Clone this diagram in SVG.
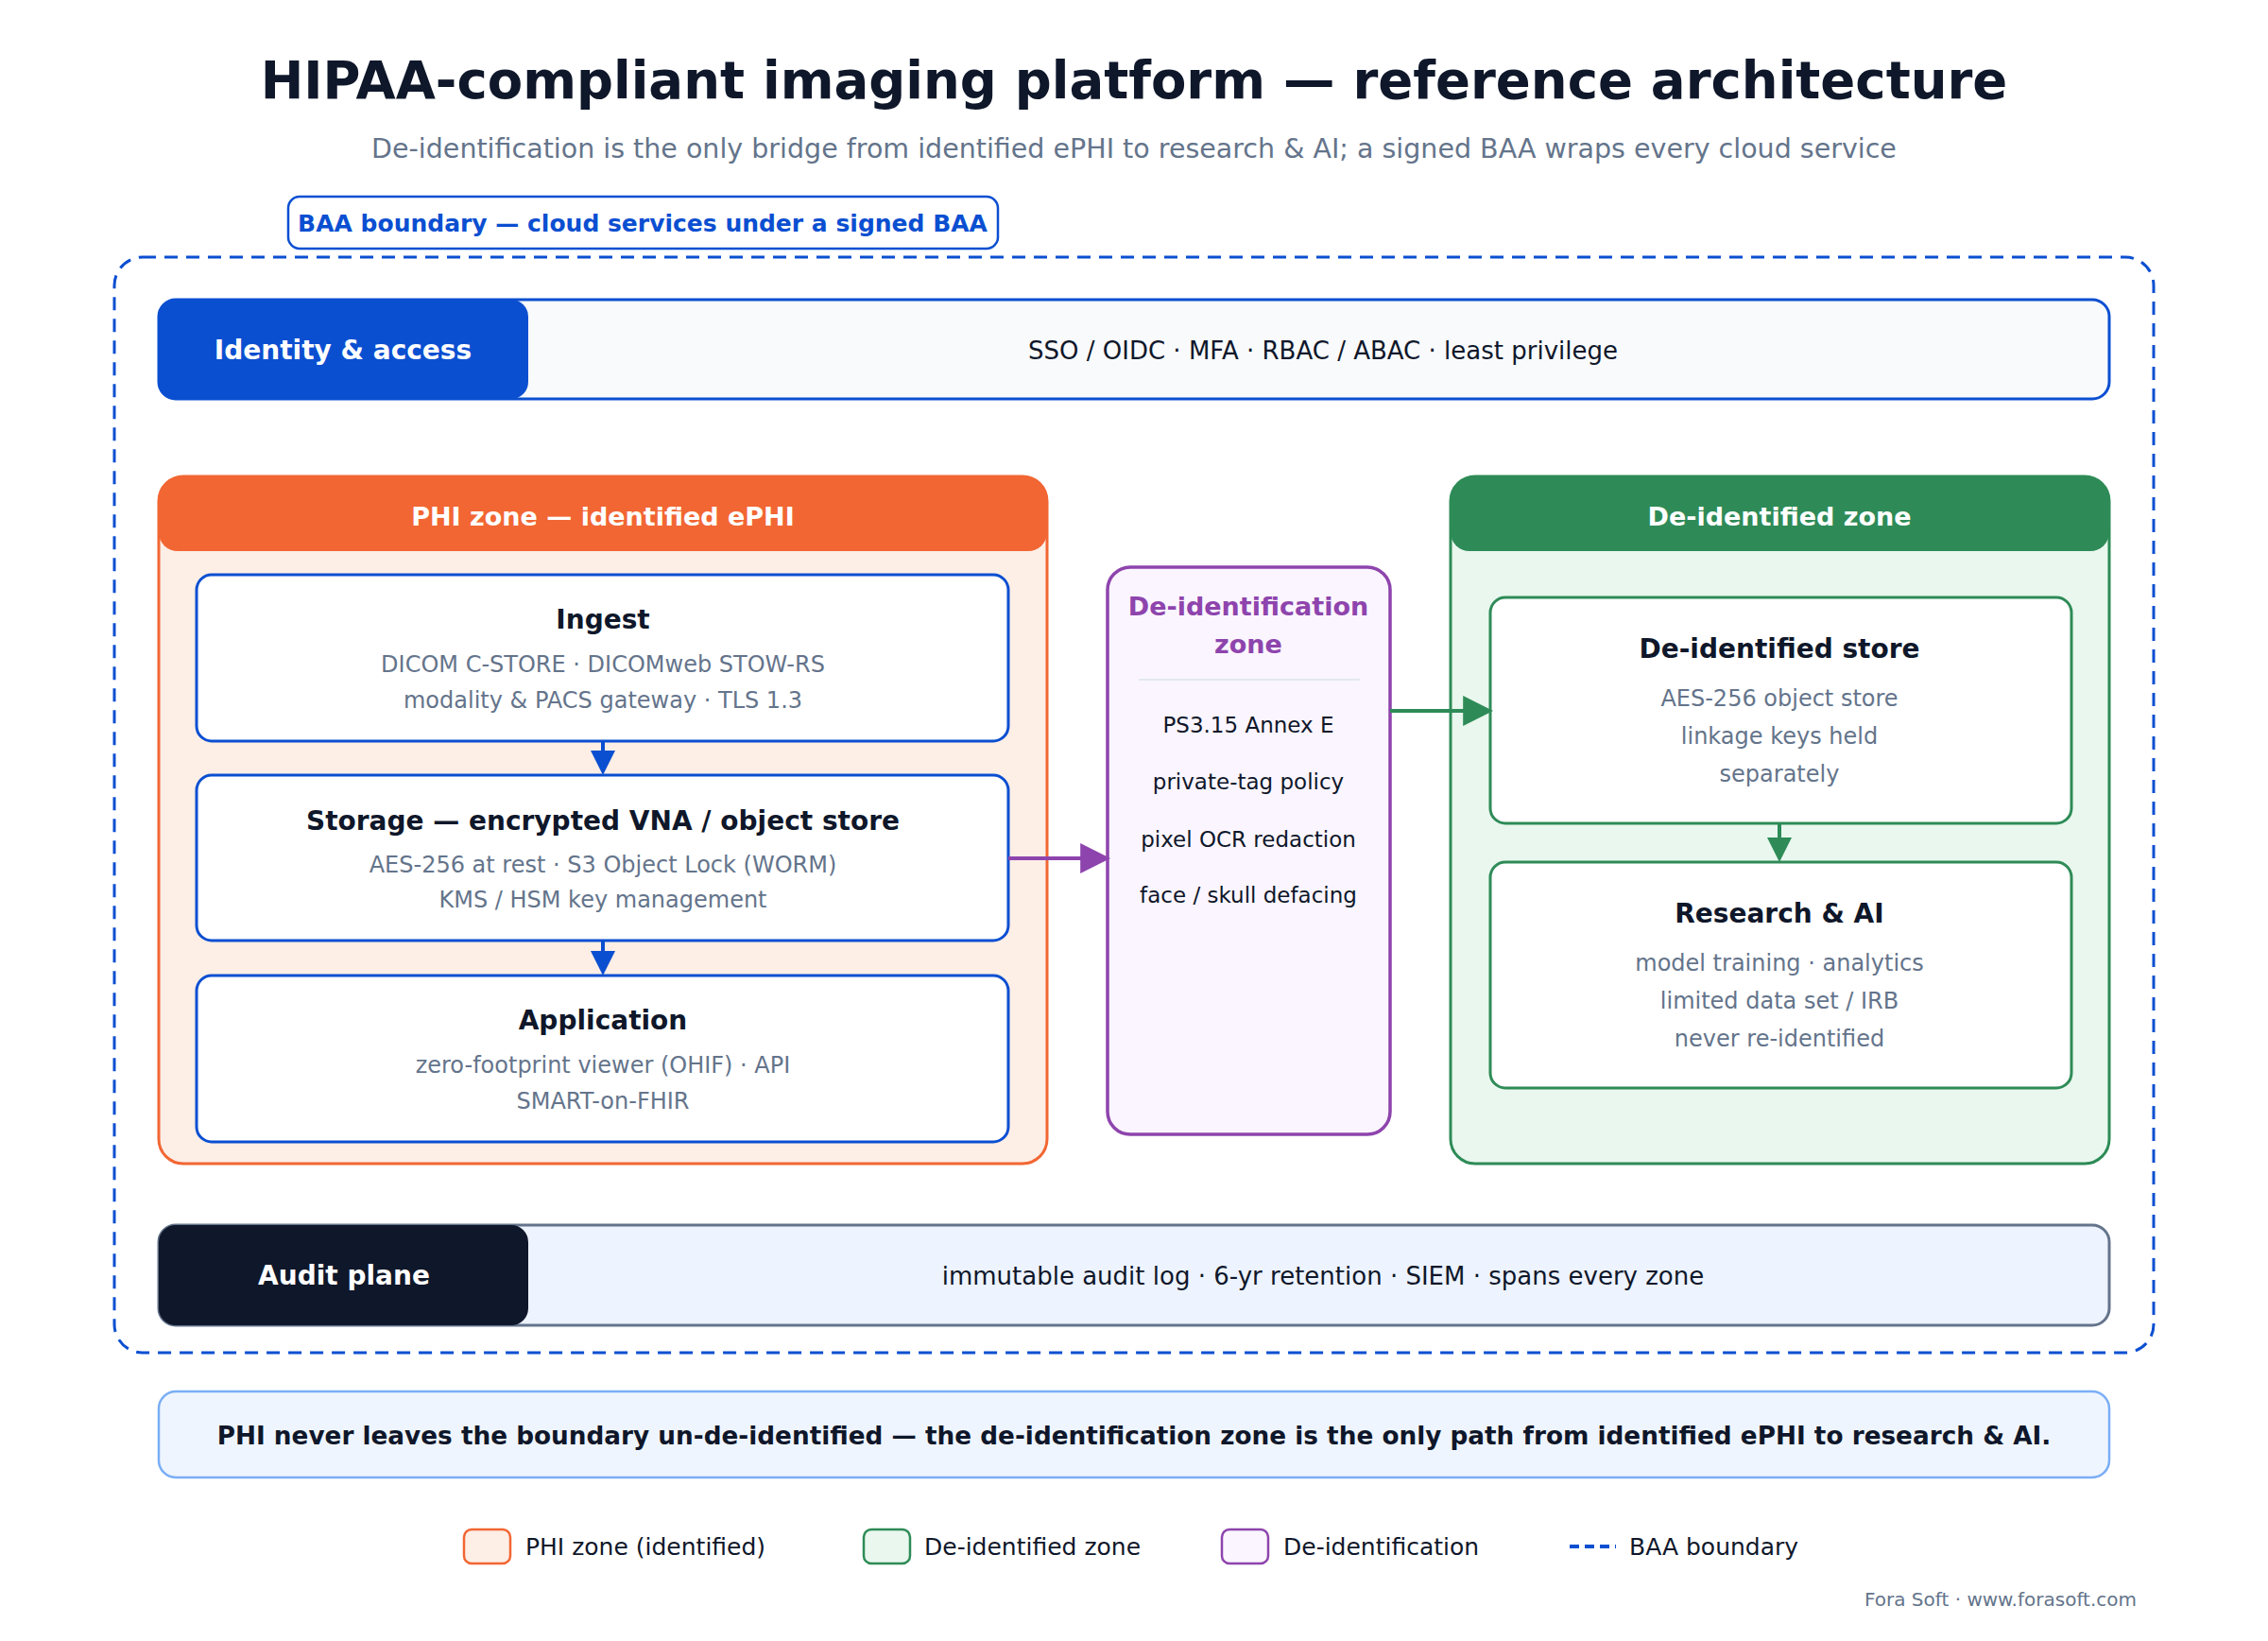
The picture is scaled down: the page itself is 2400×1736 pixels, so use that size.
<svg xmlns="http://www.w3.org/2000/svg" width="2400" height="1736" viewBox="0 0 2400 1736">
<style>
text{font-family:"DejaVu Sans","Noto Sans",sans-serif;text-anchor:middle}
.t{font-size:28px;font-weight:bold;fill:#0f172a}
.s{font-size:24px;fill:#64748b}
.d{font-size:23px;fill:#0f172a}
.bar{font-size:26px;fill:#0f172a}
.box{fill:#fff;stroke-width:3}
.lg{font-size:25px;fill:#0f172a;text-anchor:start}
</style>
<defs>
<marker id="ap" viewBox="0 0 10 10" refX="9" refY="5" markerWidth="32" markerHeight="32" orient="auto" markerUnits="userSpaceOnUse"><path d="M0 0L10 5L0 10z" fill="#8e44ad"/></marker>
<marker id="ag" viewBox="0 0 10 10" refX="9" refY="5" markerWidth="32" markerHeight="32" orient="auto" markerUnits="userSpaceOnUse"><path d="M0 0L10 5L0 10z" fill="#2e8b57"/></marker>
</defs>
<rect width="2400" height="1736" fill="#fff"/>
<text x="1200" y="104" font-size="54.5" font-weight="bold" fill="#0f172a">HIPAA-compliant imaging platform — reference architecture</text>
<text x="1200" y="167" font-size="28.5" fill="#64748b">De-identification is the only bridge from identified ePHI to research &amp; AI; a signed BAA wraps every cloud service</text>
<g id="baa">
<rect x="121" y="272" width="2158" height="1159" rx="30" fill="none" stroke="#0b4fd1" stroke-width="3" stroke-dasharray="14 9"/>
<rect x="305" y="208" width="751" height="55" rx="12" fill="#fff" stroke="#0b4fd1" stroke-width="2.5"/>
<text x="680" y="245" font-size="25" font-weight="bold" fill="#0b4fd1">BAA boundary — cloud services under a signed BAA</text>
</g>
<g id="identity">
<rect x="168" y="317" width="2064" height="105" rx="18" fill="#f8fafc" stroke="#0b4fd1" stroke-width="3"/>
<rect x="168" y="317" width="391" height="105" rx="18" fill="#0b4fd1"/>
<text x="363" y="380" font-size="28" font-weight="bold" fill="#fff">Identity &amp; access</text>
<text x="1400" y="380" class="bar">SSO / OIDC · MFA · RBAC / ABAC · least privilege</text>
</g>
<g id="phi">
<rect x="168" y="504" width="940" height="727" rx="26" fill="#fdeee6" stroke="#f26633" stroke-width="3"/>
<path d="M194 504H1082A26 26 0 0 1 1108 530V563A20 20 0 0 1 1088 583H188A20 20 0 0 1 168 563V530A26 26 0 0 1 194 504z" fill="#f26633"/>
<text x="638" y="556" font-size="27" font-weight="bold" fill="#fff">PHI zone — identified ePHI</text>
</g>
<g id="ingest">
<rect class="box" x="208" y="608" width="859" height="176" rx="16" stroke="#0b4fd1"/>
<text class="t" x="638" y="665">Ingest</text>
<text class="s" x="638" y="711">DICOM C-STORE · DICOMweb STOW-RS</text>
<text class="s" x="638" y="749">modality &amp; PACS gateway · TLS 1.3</text>
</g>
<g id="storage">
<rect class="box" x="208" y="820" width="859" height="175" rx="16" stroke="#0b4fd1"/>
<text class="t" x="638" y="878">Storage — encrypted VNA / object store</text>
<text class="s" x="638" y="923">AES-256 at rest · S3 Object Lock (WORM)</text>
<text class="s" x="638" y="960">KMS / HSM key management</text>
</g>
<g id="application">
<rect class="box" x="208" y="1032" width="859" height="176" rx="16" stroke="#0b4fd1"/>
<text class="t" x="638" y="1089">Application</text>
<text class="s" x="638" y="1135">zero-footprint viewer (OHIF) · API</text>
<text class="s" x="638" y="1173">SMART-on-FHIR</text>
</g>
<g id="deid">
<rect x="1172" y="600" width="299" height="600" rx="24" fill="#faf5fe" stroke="#8e44ad" stroke-width="3.5"/>
<text x="1321" y="651" font-size="27" font-weight="bold" fill="#8e44ad">De-identification</text>
<text x="1321" y="691" font-size="27" font-weight="bold" fill="#8e44ad">zone</text>
<line x1="1205" y1="719" x2="1439" y2="719" stroke="#e2e8f0" stroke-width="2"/>
<text class="d" x="1321" y="775">PS3.15 Annex E</text>
<text class="d" x="1321" y="835">private-tag policy</text>
<text class="d" x="1321" y="896">pixel OCR redaction</text>
<text class="d" x="1321" y="955">face / skull defacing</text>
</g>
<g id="deidzone">
<rect x="1535" y="504" width="697" height="727" rx="26" fill="#e9f7ee" stroke="#2e8b57" stroke-width="3"/>
<path d="M1561 504H2206A26 26 0 0 1 2232 530V563A20 20 0 0 1 2212 583H1555A20 20 0 0 1 1535 563V530A26 26 0 0 1 1561 504z" fill="#2e8b57"/>
<text x="1883" y="556" font-size="27" font-weight="bold" fill="#fff">De-identified zone</text>
</g>
<g id="store">
<rect class="box" x="1577" y="632" width="615" height="239" rx="16" stroke="#2e8b57"/>
<text class="t" x="1883" y="696">De-identified store</text>
<text class="s" x="1883" y="747">AES-256 object store</text>
<text class="s" x="1883" y="787">linkage keys held</text>
<text class="s" x="1883" y="827">separately</text>
</g>
<g id="research">
<rect class="box" x="1577" y="912" width="615" height="239" rx="16" stroke="#2e8b57"/>
<text class="t" x="1883" y="976">Research &amp; AI</text>
<text class="s" x="1883" y="1027">model training · analytics</text>
<text class="s" x="1883" y="1067">limited data set / IRB</text>
<text class="s" x="1883" y="1107">never re-identified</text>
</g>
<g id="connectors" stroke-width="4" fill="none">
<line x1="638" y1="784" x2="638" y2="800" stroke="#0b4fd1"/>
<line x1="638" y1="995" x2="638" y2="1012" stroke="#0b4fd1"/>
<path d="M625 794H651L638 820z M625 1006H651L638 1032z" fill="#0b4fd1" stroke="none"/>
<line x1="1067" y1="908" x2="1172" y2="908" stroke="#8e44ad" marker-end="url(#ap)"/>
<line x1="1471" y1="752" x2="1577" y2="752" stroke="#2e8b57" marker-end="url(#ag)"/>
<line x1="1883" y1="871" x2="1883" y2="890" stroke="#2e8b57"/>
<path d="M1870 886H1896L1883 912z" fill="#2e8b57" stroke="none"/>
</g>
<g id="audit">
<rect x="168" y="1296" width="2064" height="106" rx="18" fill="#edf3ff" stroke="#64748b" stroke-width="3"/>
<rect x="168" y="1296" width="391" height="106" rx="18" fill="#0f172a"/>
<text x="364" y="1359" font-size="28" font-weight="bold" fill="#fff">Audit plane</text>
<text x="1400" y="1359" class="bar">immutable audit log · 6-yr retention · SIEM · spans every zone</text>
</g>
<g id="note">
<rect x="168" y="1472" width="2064" height="91" rx="18" fill="#eff5ff" stroke="#7aaef5" stroke-width="2.5"/>
<text x="1200" y="1528" font-size="26.3" font-weight="bold" fill="#0f172a">PHI never leaves the boundary un-de-identified — the de-identification zone is the only path from identified ePHI to research &amp; AI.</text>
</g>
<g id="legend">
<rect x="491" y="1618" width="49" height="36" rx="8" fill="#fdeee6" stroke="#f26633" stroke-width="2.5"/>
<text class="lg" x="556" y="1645">PHI zone (identified)</text>
<rect x="914" y="1618" width="49" height="36" rx="8" fill="#e9f7ee" stroke="#2e8b57" stroke-width="2.5"/>
<text class="lg" x="978" y="1645">De-identified zone</text>
<rect x="1293" y="1618" width="49" height="36" rx="8" fill="#faf5fe" stroke="#8e44ad" stroke-width="2.5"/>
<text class="lg" x="1358" y="1645">De-identification</text>
<line x1="1661" y1="1636" x2="1710" y2="1636" stroke="#0b4fd1" stroke-width="4" stroke-dasharray="10 6"/>
<text class="lg" x="1724" y="1645">BAA boundary</text>
</g>
<text x="2261" y="1699" font-size="20" fill="#64748b" style="text-anchor:end">Fora Soft · www.forasoft.com</text>
</svg>
